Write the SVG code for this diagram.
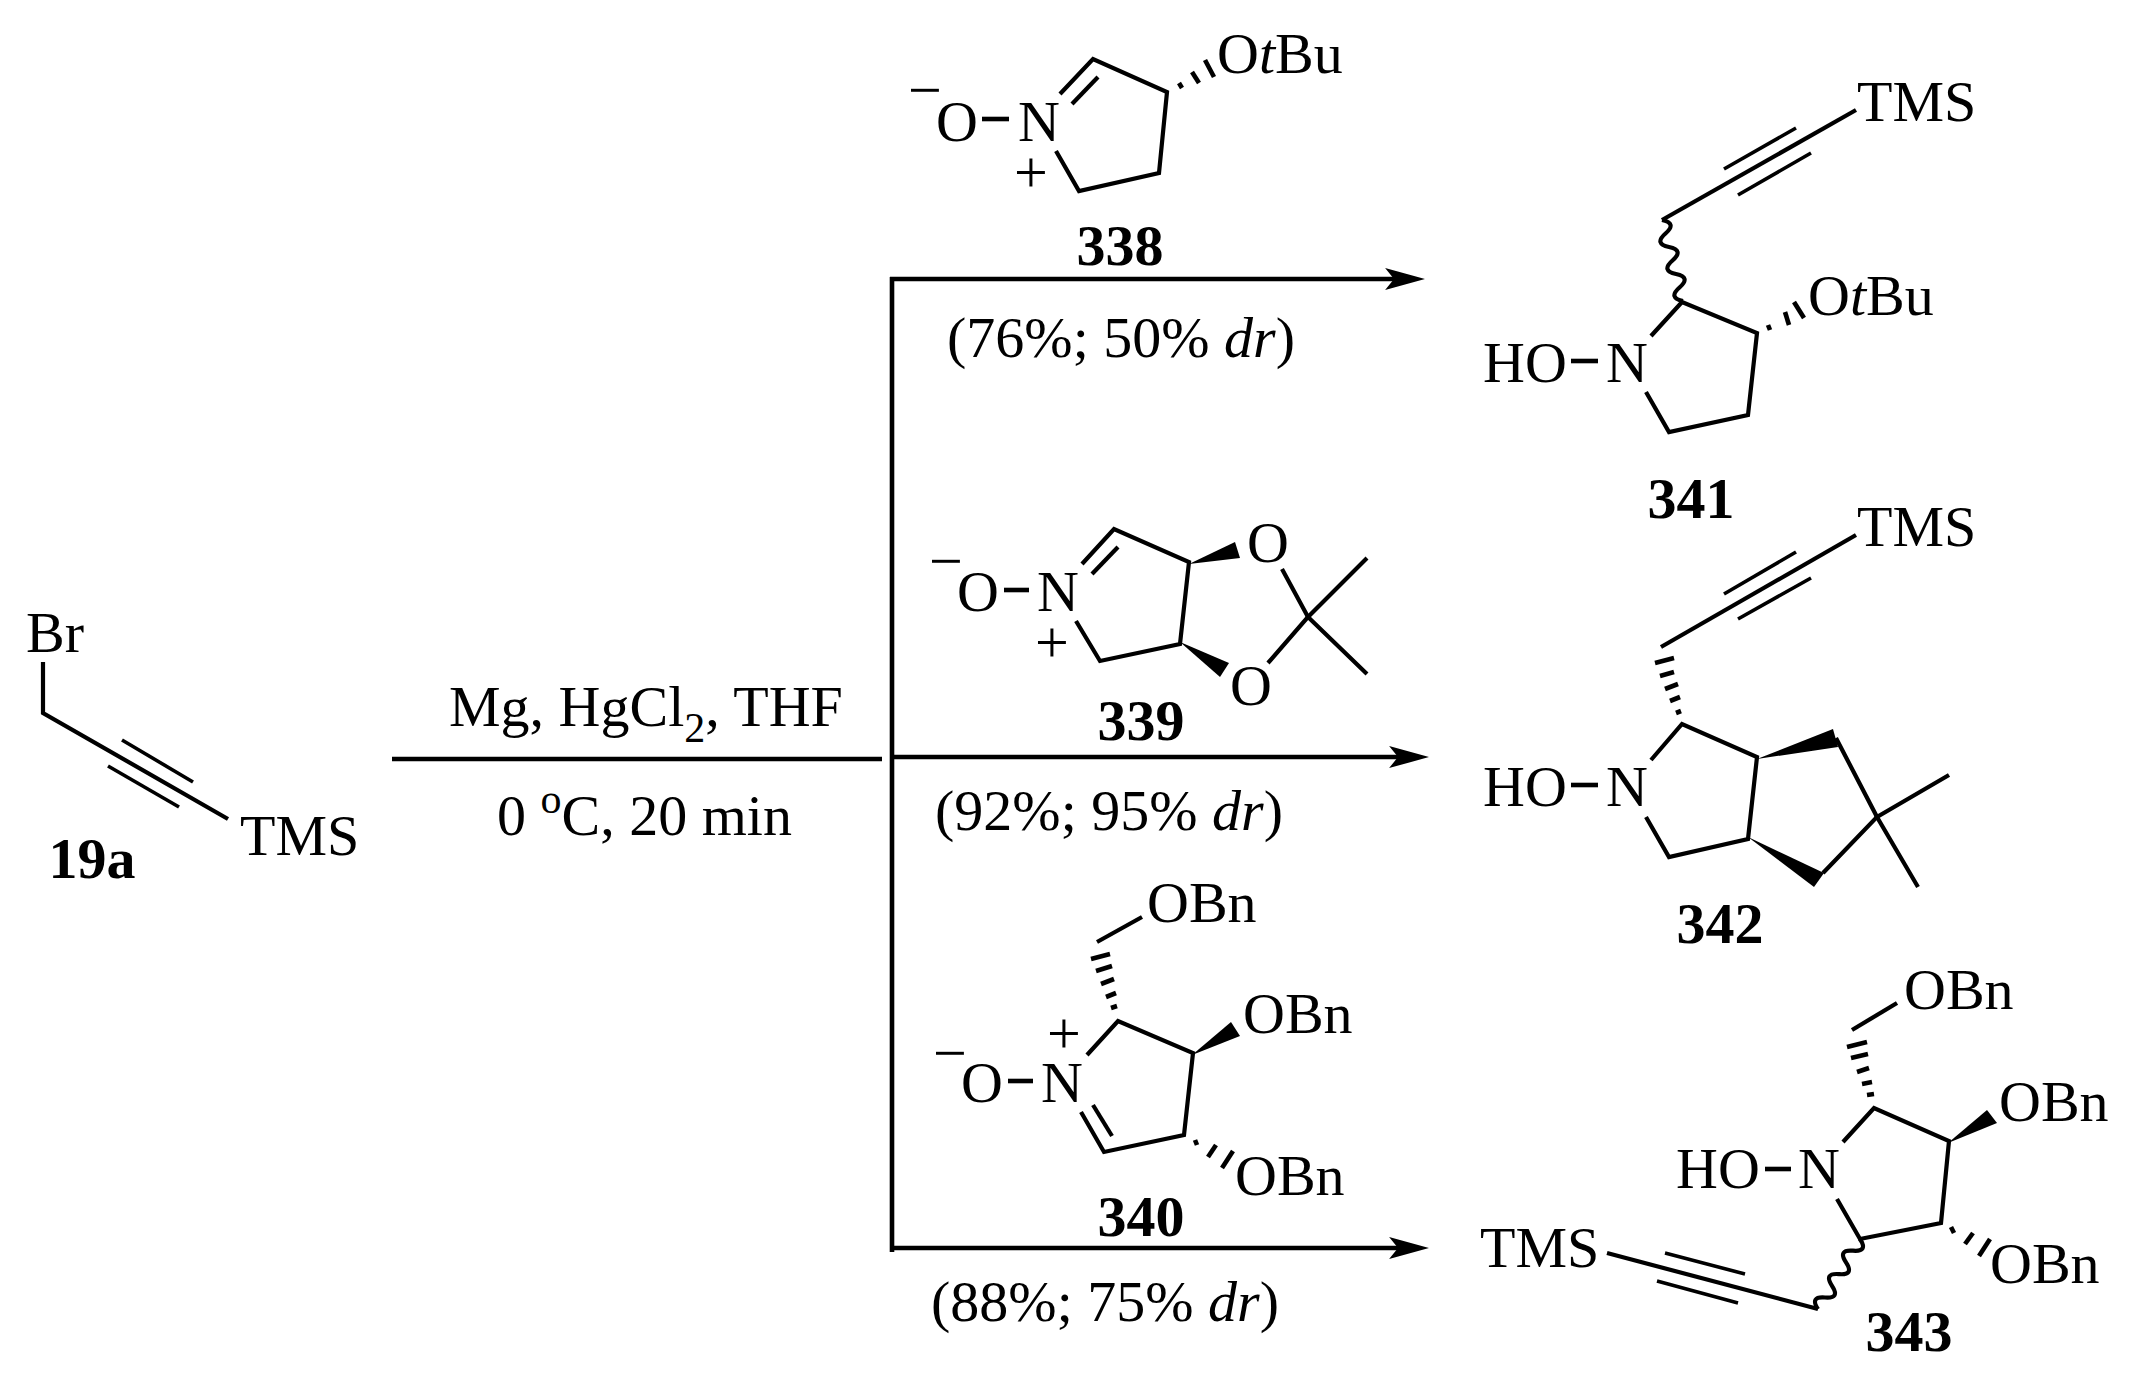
<svg xmlns="http://www.w3.org/2000/svg" width="2136" height="1380" viewBox="0 0 2136 1380">
<defs>
<style>
text{font-family:"Liberation Serif","Times New Roman",serif;font-size:58px;fill:#000}
.b{font-weight:bold}
.i{font-style:italic}
.m{text-anchor:middle}
.sub{font-size:42px}
.ch{font-size:60px}
path,line{fill:none;stroke:#000;stroke-width:4.2;stroke-linejoin:miter}
.t{stroke-width:3.6}
.h{stroke-width:4.6}
.a{stroke-width:4.6}
path.w{fill:#000;stroke:none}
</style>
<marker id="arr" markerUnits="userSpaceOnUse" markerWidth="40" markerHeight="24" viewBox="0 0 36 20" refX="8" refY="10" orient="auto"><path class="w" d="M0 0L36 10L0 20L8 10Z"/></marker>
</defs>
<rect width="2136" height="1380" fill="#fff"/>

<g id="connectors">
<line class="a" x1="392" y1="759" x2="882" y2="759"/>
<line class="a" x1="892" y1="277" x2="892" y2="1252"/>
<line class="a" x1="890" y1="279" x2="1394" y2="279" marker-end="url(#arr)"/>
<line class="a" x1="892" y1="757" x2="1398" y2="757" marker-end="url(#arr)"/>
<line class="a" x1="890" y1="1248" x2="1398" y2="1248" marker-end="url(#arr)"/>
</g>

<g id="reagents">
<text x="449" y="726">Mg, HgCl<tspan class="sub" dy="16">2</tspan><tspan dy="-16">, THF</tspan></text>
<text x="497" y="835">0 <tspan class="sub" dy="-22">o</tspan><tspan dy="22">C, 20 min</tspan></text>
</g>

<g id="node-19a">
<text x="26" y="652">Br</text>
<path d="M43 662V713L228 819"/>
<line class="t" x1="122" y1="740" x2="193" y2="782"/>
<line class="t" x1="108" y1="766" x2="179" y2="807"/>
<text x="240" y="855">TMS</text>
<text class="b m" x="92" y="878">19a</text>
</g>

<g id="node-338">
<text class="m ch" x="925" y="110">−</text>
<text x="936" y="141">O</text>
<line class="h" x1="982" y1="119" x2="1009" y2="119"/>
<text x="1018" y="141">N</text>
<text class="m ch" x="1031" y="192">+</text>
<path d="M1060 94L1093 59L1167 92L1159 173L1079 191L1056 151"/>
<line x1="1072" y1="104" x2="1098" y2="77"/>
<line class="h" x1="1179" y1="83" x2="1182" y2="88"/>
<line class="h" x1="1192" y1="72" x2="1199" y2="83"/>
<line class="h" x1="1205" y1="60" x2="1214" y2="77"/>
<text x="1217" y="73">O<tspan class="i">t</tspan>Bu</text>
<text class="b m" x="1120" y="265">338</text>
<text x="947" y="357">(76%; 50% <tspan class="i">dr</tspan>)</text>
</g>

<g id="node-339">
<text class="m ch" x="946" y="581">−</text>
<text x="957" y="611">O</text>
<line class="h" x1="1004" y1="590" x2="1029" y2="590"/>
<text x="1037" y="611">N</text>
<text class="m ch" x="1052" y="662">+</text>
<path d="M1082 564L1114 529L1189 562L1180 644L1100 661L1076 621"/>
<line x1="1092" y1="574" x2="1118" y2="547"/>
<path class="w" d="M1189 564L1235 542L1240 558Z"/>
<path class="w" d="M1180 642L1229 663L1220 677Z"/>
<text x="1247" y="562">O</text>
<text x="1230" y="705">O</text>
<path d="M1282 569L1308 617L1268 663"/>
<path d="M1367 558L1308 617L1367 674"/>
<text class="b m" x="1141" y="740">339</text>
<text x="935" y="830">(92%; 95% <tspan class="i">dr</tspan>)</text>
</g>

<g id="node-340">
<text x="1147" y="922">OBn</text>
<line x1="1142" y1="917" x2="1097" y2="942"/>
<line class="h" x1="1091" y1="959" x2="1110" y2="954"/>
<line class="h" x1="1096" y1="971" x2="1112" y2="966"/>
<line class="h" x1="1101" y1="984" x2="1114" y2="979"/>
<line class="h" x1="1106" y1="997" x2="1116" y2="993"/>
<line class="h" x1="1111" y1="1008" x2="1117" y2="1006"/>
<path d="M1087 1055L1118 1021L1193 1053L1184 1135L1104 1152L1081 1112"/>
<line x1="1093" y1="1105" x2="1112" y2="1136"/>
<path class="w" d="M1192 1055L1231 1022L1240 1036Z"/>
<text x="1243" y="1033">OBn</text>
<text class="m ch" x="950" y="1073">−</text>
<text x="961" y="1102">O</text>
<line class="h" x1="1008" y1="1081" x2="1033" y2="1081"/>
<text x="1041" y="1102">N</text>
<text class="m ch" x="1064" y="1053">+</text>
<line class="h" x1="1195" y1="1140" x2="1197" y2="1145"/>
<line class="h" x1="1208" y1="1157" x2="1216" y2="1145"/>
<line class="h" x1="1222" y1="1168" x2="1233" y2="1151"/>
<text x="1235" y="1195">OBn</text>
<text class="b m" x="1141" y="1236">340</text>
<text x="931" y="1321">(88%; 75% <tspan class="i">dr</tspan>)</text>
</g>

<g id="node-341">
<text x="1857" y="121">TMS</text>
<line x1="1856" y1="110" x2="1662" y2="220"/>
<line class="t" x1="1724" y1="169" x2="1796" y2="128"/>
<line class="t" x1="1738" y1="195" x2="1811" y2="153"/>
<path d="M1662 220q15.300 3.200 3.500 13.500t3.500 13.500t3.500 13.500t3.500 13.500t3.500 13.500t3.500 13.500"/>
<path d="M1651 336L1682 302L1757 333L1748 415L1669 432L1646 392"/>
<text x="1483" y="382">HO</text>
<line class="h" x1="1571" y1="361" x2="1598" y2="361"/>
<text x="1606" y="382">N</text>
<line class="h" x1="1768" y1="325" x2="1770" y2="330"/>
<line class="h" x1="1785" y1="312" x2="1789" y2="325"/>
<line class="h" x1="1794" y1="302" x2="1804" y2="318"/>
<text x="1808" y="315">O<tspan class="i">t</tspan>Bu</text>
<text class="b m" x="1691" y="518">341</text>
</g>

<g id="node-342">
<text x="1857" y="546">TMS</text>
<line x1="1856" y1="535" x2="1661" y2="647"/>
<line class="t" x1="1724" y1="594" x2="1796" y2="552"/>
<line class="t" x1="1738" y1="619" x2="1811" y2="578"/>
<line class="h" x1="1655" y1="663" x2="1674" y2="658"/>
<line class="h" x1="1660" y1="676" x2="1674" y2="672"/>
<line class="h" x1="1665" y1="689" x2="1678" y2="684"/>
<line class="h" x1="1670" y1="701" x2="1680" y2="697"/>
<line class="h" x1="1676" y1="713" x2="1681" y2="711"/>
<path d="M1651 760L1682 724L1757 757L1748 839L1669 857L1646 817"/>
<path class="w" d="M1757 759L1833 729L1838 747Z"/>
<path class="w" d="M1748 837L1824 873L1814 887Z"/>
<path d="M1836 738L1877 817L1823 873"/>
<path d="M1949 775L1877 817L1918 887"/>
<text x="1483" y="806">HO</text>
<line class="h" x1="1571" y1="785" x2="1598" y2="785"/>
<text x="1606" y="806">N</text>
<text class="b m" x="1720" y="943">342</text>
</g>

<g id="node-343">
<text x="1904" y="1009">OBn</text>
<line x1="1897" y1="1003" x2="1852" y2="1030"/>
<line class="h" x1="1847" y1="1047" x2="1867" y2="1042"/>
<line class="h" x1="1851" y1="1058" x2="1868" y2="1054"/>
<line class="h" x1="1857" y1="1072" x2="1869" y2="1068"/>
<line class="h" x1="1862" y1="1084" x2="1872" y2="1082"/>
<line class="h" x1="1867" y1="1095" x2="1874" y2="1094"/>
<path d="M1843 1142L1874 1108L1949 1141L1941 1223L1860 1239L1837 1199"/>
<path class="w" d="M1948 1143L1987 1110L1997 1123Z"/>
<text x="1999" y="1121">OBn</text>
<line class="h" x1="1951" y1="1227" x2="1954" y2="1233"/>
<line class="h" x1="1965" y1="1244" x2="1973" y2="1233"/>
<line class="h" x1="1979" y1="1256" x2="1990" y2="1239"/>
<text x="1990" y="1283">OBn</text>
<text x="1676" y="1188">HO</text>
<line class="h" x1="1765" y1="1169" x2="1791" y2="1169"/>
<text x="1798" y="1188">N</text>
<text x="1480" y="1267">TMS</text>
<line x1="1607" y1="1253" x2="1818" y2="1309"/>
<line class="t" x1="1665" y1="1253" x2="1745" y2="1274"/>
<line class="t" x1="1657" y1="1281" x2="1738" y2="1303"/>
<path d="M1860 1239q8.500 13 -7 11.700t-7 11.700t-7 11.700t-7 11.700t-7 11.700t-7 11.700"/>
<text class="b m" x="1909" y="1351">343</text>
</g>
</svg>
